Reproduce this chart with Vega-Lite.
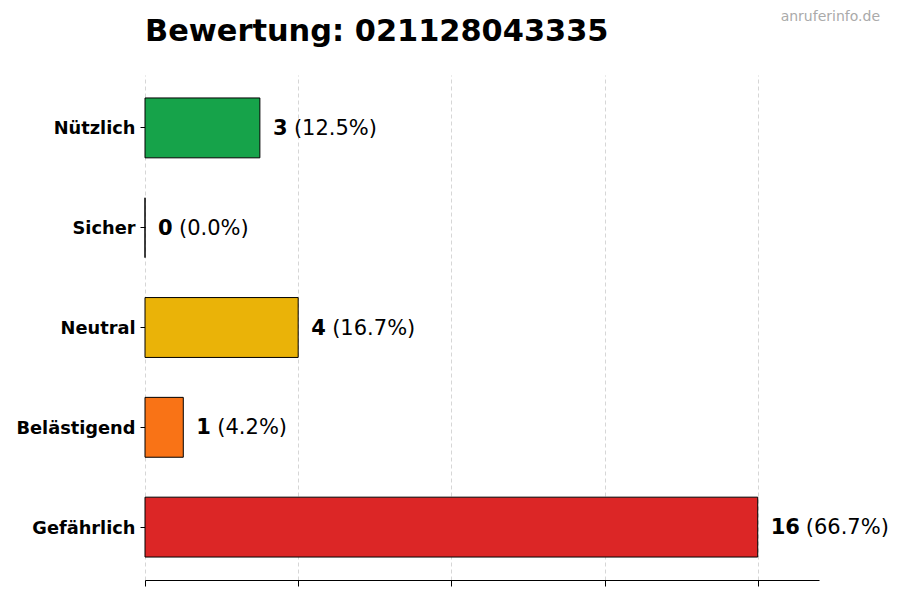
{
  "$schema": "https://vega.github.io/schema/vega-lite/v6.json",
  "width": 674,
  "height": 505,
  "autosize": {"type": "none"},
  "padding": {"left": 145, "top": 75, "right": 81, "bottom": 20},
  "background": "white",
  "config": {
    "view": {"stroke": null},
    "font": "DejaVu Sans"
  },
  "data": {
    "values": [
      {"kategorie": "Nützlich", "anzahl": 3, "prozent": "(12.5%)"},
      {"kategorie": "Sicher", "anzahl": 0, "prozent": "(0.0%)"},
      {"kategorie": "Neutral", "anzahl": 4, "prozent": "(16.7%)"},
      {"kategorie": "Belästigend", "anzahl": 1, "prozent": "(4.2%)"},
      {"kategorie": "Gefährlich", "anzahl": 16, "prozent": "(66.7%)"}
    ]
  },
  "encoding": {
    "y": {
      "field": "kategorie",
      "type": "nominal",
      "sort": null,
      "scale": {"paddingInner": 0.4, "paddingOuter": 0.23},
      "axis": {
        "title": null,
        "domain": false,
        "ticks": true,
        "tickSize": 5,
        "tickColor": "#000000",
        "labelPadding": 5,
        "labelFont": "DejaVu Sans",
        "labelFontSize": 17.8,
        "labelFontWeight": "bold",
        "labelColor": "#000000",
        "labelOffset": 1.5
      }
    },
    "x": {
      "field": "anzahl",
      "type": "quantitative",
      "scale": {"domain": [0, 17.6], "nice": false, "zero": true},
      "axis": {
        "title": null,
        "values": [0, 4, 8, 12, 16],
        "labels": false,
        "domain": true,
        "domainColor": "#000000",
        "domainWidth": 1.2,
        "ticks": true,
        "tickColor": "#000000",
        "tickSize": 6,
        "tickWidth": 1,
        "grid": true,
        "gridColor": "#cccccc",
        "gridDash": [4, 3],
        "gridWidth": 0.8,
        "offset": 0
      }
    }
  },
  "layer": [
    {
      "mark": {"type": "bar", "stroke": "#000000", "strokeWidth": 1},
      "encoding": {
        "color": {
          "field": "kategorie",
          "type": "nominal",
          "scale": {
            "domain": ["Nützlich", "Sicher", "Neutral", "Belästigend", "Gefährlich"],
            "range": ["#16a34a", "#6b7280", "#eab308", "#f97316", "#dc2626"]
          },
          "legend": null
        }
      }
    },
    {
      "mark": {"type": "text", "align": "left", "baseline": "middle", "dx": 13, "dy": 1, "fontSize": 21, "fontWeight": "bold", "color": "#000000", "font": "DejaVu Sans"},
      "encoding": {"text": {"field": "anzahl", "type": "quantitative"}}
    },
    {
      "transform": [{"filter": "datum.anzahl < 10"}],
      "mark": {"type": "text", "align": "left", "baseline": "middle", "dx": 34, "dy": 1, "fontSize": 21, "color": "#000000", "font": "DejaVu Sans"},
      "encoding": {"text": {"field": "prozent", "type": "nominal"}}
    },
    {
      "transform": [{"filter": "datum.anzahl >= 10"}],
      "mark": {"type": "text", "align": "left", "baseline": "middle", "dx": 48, "dy": 1, "fontSize": 21, "color": "#000000", "font": "DejaVu Sans"},
      "encoding": {"text": {"field": "prozent", "type": "nominal"}}
    },
    {
      "data": {"values": [{"titel": "Bewertung: 021128043335"}]},
      "mark": {"type": "text", "align": "left", "baseline": "alphabetic", "fontSize": 30.4, "fontWeight": "bold", "color": "#000000", "font": "DejaVu Sans"},
      "encoding": {
        "text": {"field": "titel", "type": "nominal"},
        "x": {"value": 0},
        "y": {"value": -34}
      }
    },
    {
      "data": {"values": [{"marke": "anruferinfo.de"}]},
      "mark": {"type": "text", "align": "right", "baseline": "middle", "fontSize": 14, "color": "#aaaaaa", "font": "DejaVu Sans"},
      "encoding": {
        "text": {"field": "marke", "type": "nominal"},
        "x": {"value": 735},
        "y": {"value": -58}
      }
    }
  ]
}
